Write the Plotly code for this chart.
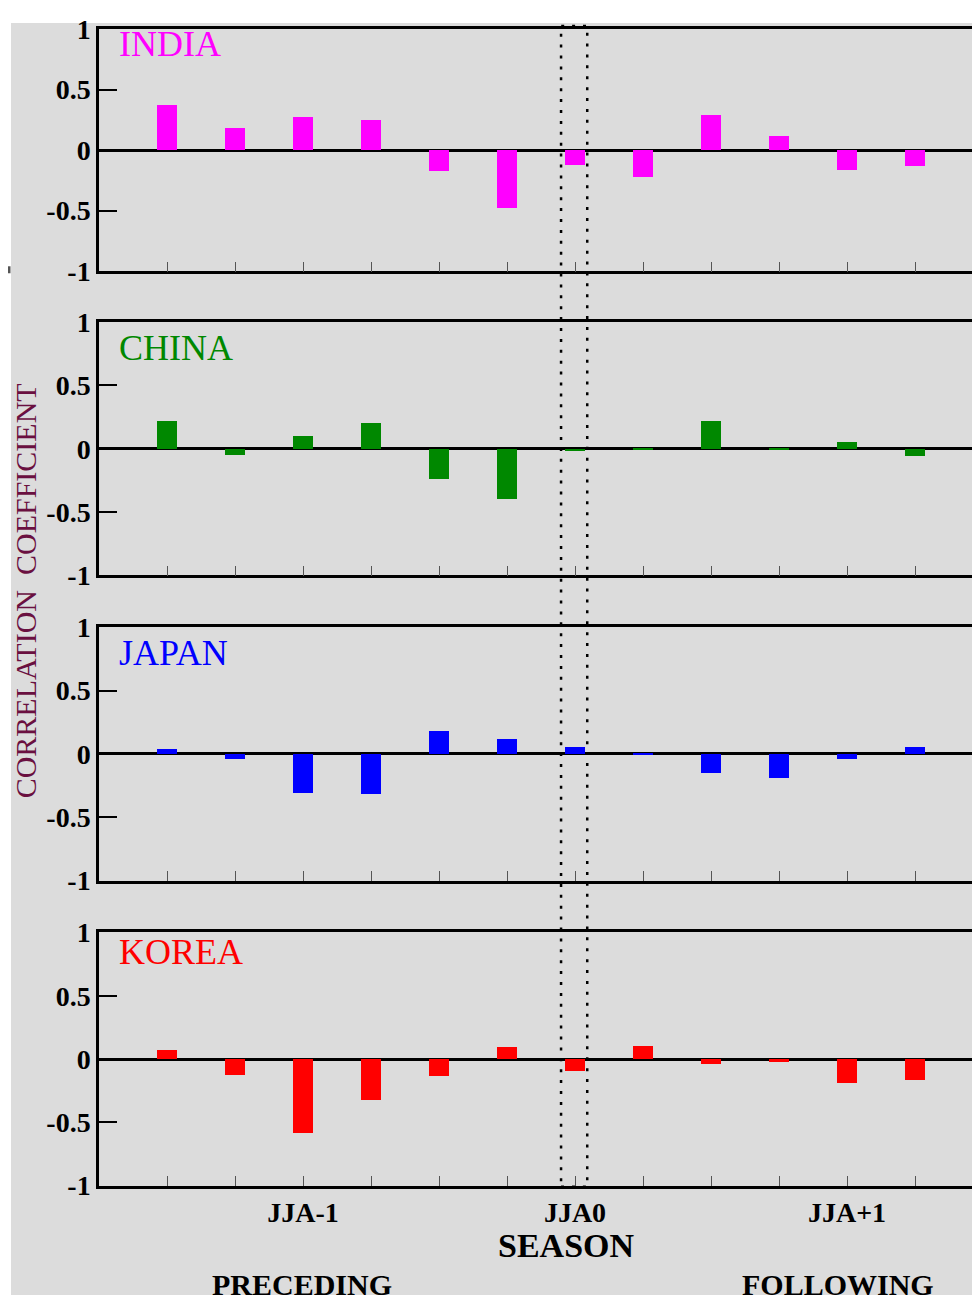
import plotly.graph_objects as go

# ---- data ----
positions = list(range(1, 13))
regions = ["INDIA", "CHINA", "JAPAN", "KOREA"]
region_colors = ["#ff00ff", "#008800", "#0000ff", "#ff0000"]
india = [0.37, 0.18, 0.277, 0.245, -0.17, -0.48, -0.12, -0.22, 0.29, 0.12, -0.16, -0.13]
china = [0.22, -0.05, 0.10, 0.205, -0.24, -0.40, -0.02, -0.005, 0.22, -0.005, 0.05, -0.06]
japan = [0.037, -0.042, -0.31, -0.32, 0.18, 0.115, 0.05, -0.01, -0.15, -0.19, -0.042, 0.05]
korea = [0.065, -0.13, -0.59, -0.33, -0.14, 0.09, -0.10, 0.10, -0.04, -0.026, -0.195, -0.17]
series = [india, china, japan, korea]
season_ticks = [3, 7, 11]
season_labels = ["JJA-1", "JJA0", "JJA+1"]
y_ticks = [-1, -0.5, 0, 0.5, 1]
y_ticklabels = ["-1", "-0.5", "0", "0.5", "1"]

# page placement of the figure (body margin + offset, vertical capture scale)
OX = 8
SY, TY = 0.979, 22.5
W, H = 980 - 2 * OX, 1303
SERIF = "Liberation Serif"

def px(p):
    return (p - OX) / W

def py(p):
    return 1 - (p / SY - TY) / H

panel_px = [(28, 271), (322, 576), (628, 882), (934, 1188)]
x_dom = [px(99), 1.0]
x_range = [0, 1 + (972 - 167) / 68]

fig = go.Figure()
layout = dict(
    width=W, height=H,
    margin=dict(l=0, r=0, t=0, b=0),
    paper_bgcolor="white",
    plot_bgcolor="#dcdcdc",
    showlegend=False,
    bargap=0,
)

for i, (vals, col) in enumerate(zip(series, region_colors)):
    n = "" if i == 0 else str(i + 1)
    fig.add_trace(go.Bar(
        x=positions, y=vals, width=0.294,
        marker=dict(color=col, line=dict(width=0)),
        xaxis="x" + n, yaxis="y" + n, hoverinfo="skip",
    ))
    top, bot = panel_px[i]
    last = (i == 3)
    layout["xaxis" + n] = dict(
        domain=x_dom, range=x_range, anchor="y" + n,
        showline=True, mirror=True, linecolor="black", linewidth=2.5,
        showgrid=False, zeroline=False,
        ticks="inside", ticklen=10, tickwidth=1.2, tickcolor="#555555",
        tickvals=positions,
        ticktext=[("<b>%s</b>" % season_labels[season_ticks.index(p)]) if (last and p in season_ticks) else "" for p in positions],
        showticklabels=last,
        tickfont=dict(family=SERIF, size=28, color="black"),
    )
    layout["yaxis" + n] = dict(
        domain=[py(bot), py(top)], range=[-1, 1], anchor="x" + n,
        showline=True, mirror=False, linecolor="black", linewidth=2.5,
        showgrid=False,
        zeroline=True, zerolinecolor="black", zerolinewidth=2.5,
        ticks="inside", ticklen=18, tickwidth=2, tickcolor="black",
        tickvals=y_ticks, ticktext=["<b>%s</b>" % t for t in y_ticklabels],
        tickfont=dict(family=SERIF, size=28, color="black"),
    )

shapes = [
    dict(type="rect", xref="paper", yref="paper", x0=px(11), x1=1, y0=0, y1=1,
         fillcolor="#dcdcdc", line=dict(width=0), layer="below"),
    dict(type="rect", xref="paper", yref="paper", x0=0, x1=px(10.5),
         y0=py(273), y1=py(266), fillcolor="#555555", line=dict(width=0), layer="above"),
    dict(type="rect", xref="x", yref="paper", x0=6.795, x1=7.18,
         y0=py(1189), y1=py(25),
         line=dict(color="black", width=2.5, dash="3px,7.9px"), layer="above"),
]
layout["shapes"] = shapes

annotations = []
label_py = [43, 348, 654, 954]
for name, col, yp in zip(regions, region_colors, label_py):
    annotations.append(dict(
        text=name, xref="paper", yref="paper", x=px(117), y=py(yp),
        xanchor="left", yanchor="middle", showarrow=False,
        font=dict(family=SERIF, size=36, color=col)))
annotations += [
    dict(text="CORRELATION  COEFFICIENT", xref="paper", yref="paper",
         x=px(25), y=py(592), textangle=-90, showarrow=False,
         xanchor="center", yanchor="middle",
         font=dict(family=SERIF, size=30, color="#6a1040")),
    dict(text="<b>SEASON</b>", xref="paper", yref="paper", x=px(566), y=py(1248),
         showarrow=False, xanchor="center", yanchor="middle",
         font=dict(family=SERIF, size=34, color="black")),
    dict(text="<b>PRECEDING</b>", xref="paper", yref="paper", x=px(302), y=py(1287),
         showarrow=False, xanchor="center", yanchor="middle",
         font=dict(family=SERIF, size=30, color="black")),
    dict(text="<b>FOLLOWING</b>", xref="paper", yref="paper", x=px(838), y=py(1287),
         showarrow=False, xanchor="center", yanchor="middle",
         font=dict(family=SERIF, size=30, color="black")),
]
layout["annotations"] = annotations

fig.update_layout(**layout)
fig.write_html("out.html")
